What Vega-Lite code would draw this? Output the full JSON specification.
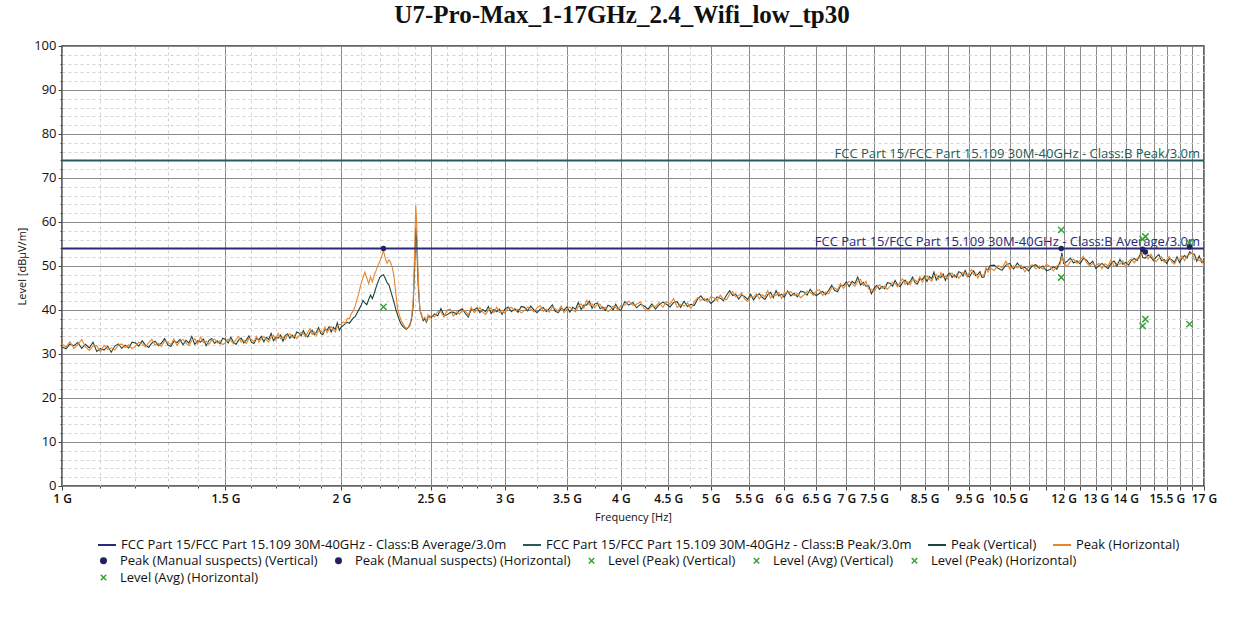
{
  "$schema": "https://vega.github.io/schema/vega-lite/v6.json",
  "autosize": {"type": "none"},
  "width": 1142,
  "height": 440,
  "padding": {"left": 62, "top": 46, "right": 43, "bottom": 136},
  "background": "white",
  "title": {"text": "U7-Pro-Max_1-17GHz_2.4_Wifi_low_tp30", "font": "Liberation Serif", "fontSize": 25, "fontWeight": "bold", "color": "#111111", "anchor": "middle", "dx": -11, "offset": 11},
  "config": {
    "view": {"stroke": "#333333", "strokeWidth": 1.5},
    "axis": {"labelFont": "Open Sans", "labelFontSize": 12, "labelColor": "#111111", "titleFont": "Open Sans", "titleFontSize": 11, "titleFontWeight": "normal", "titleColor": "#111111", "domain": false, "tickColor": "#444444", "gridOpacity": 1},
    "legend": {"labelFont": "Open Sans", "labelFontSize": 13, "labelColor": "#111111", "labelLimit": 600}
  },
  "datasets": {
    "tr": [
      {"f":1.00,"V":31.6,"H":32.2},{"f":1.01,"V":31.2,"H":31.6},{"f":1.02,"V":32.3,"H":32.8},{"f":1.03,"V":31.9,"H":31.3},{"f":1.04,"V":32.6,"H":32.1},{"f":1.05,"V":31.3,"H":33.3},{"f":1.06,"V":32.2,"H":31.6},{"f":1.07,"V":31.4,"H":30.8},{"f":1.08,"V":32.7,"H":31.8},{"f":1.09,"V":30.6,"H":31.9},
      {"f":1.10,"V":31.2,"H":30.5},{"f":1.11,"V":30.9,"H":32.0},{"f":1.12,"V":31.8,"H":31.0},{"f":1.13,"V":30.4,"H":31.4},{"f":1.14,"V":31.8,"H":30.9},{"f":1.15,"V":32.3,"H":32.0},{"f":1.16,"V":31.3,"H":32.3},{"f":1.17,"V":32.0,"H":31.5},{"f":1.18,"V":31.4,"H":32.1},{"f":1.19,"V":32.7,"H":31.2},
      {"f":1.20,"V":32.5,"H":31.8},{"f":1.21,"V":31.8,"H":32.7},{"f":1.22,"V":33.0,"H":32.3},{"f":1.23,"V":32.0,"H":31.6},{"f":1.24,"V":31.5,"H":32.6},{"f":1.25,"V":32.5,"H":33.3},{"f":1.26,"V":32.9,"H":32.0},{"f":1.27,"V":31.9,"H":32.5},{"f":1.28,"V":32.5,"H":31.7},{"f":1.29,"V":33.5,"H":33.0},
      {"f":1.30,"V":32.1,"H":32.7},{"f":1.31,"V":31.7,"H":32.1},{"f":1.32,"V":32.9,"H":33.4},{"f":1.33,"V":32.6,"H":32.0},{"f":1.34,"V":33.3,"H":32.8},{"f":1.35,"V":32.1,"H":33.3},{"f":1.36,"V":33.1,"H":32.5},{"f":1.37,"V":32.5,"H":31.9},{"f":1.38,"V":34.0,"H":33.1},{"f":1.39,"V":32.2,"H":33.5},
      {"f":1.40,"V":33.0,"H":32.3},{"f":1.41,"V":32.7,"H":33.8},{"f":1.42,"V":33.4,"H":32.6},{"f":1.43,"V":31.9,"H":32.9},{"f":1.44,"V":33.1,"H":32.2},{"f":1.45,"V":33.5,"H":33.2},{"f":1.46,"V":32.4,"H":33.4},{"f":1.47,"V":33.0,"H":32.5},{"f":1.48,"V":32.3,"H":33.0},{"f":1.49,"V":33.6,"H":32.1},
      {"f":1.50,"V":33.3,"H":32.6},{"f":1.51,"V":32.5,"H":33.4},{"f":1.52,"V":33.8,"H":33.1},{"f":1.53,"V":32.7,"H":32.3},{"f":1.54,"V":32.2,"H":33.3},{"f":1.55,"V":33.2,"H":34.0},{"f":1.56,"V":33.6,"H":32.7},{"f":1.57,"V":32.5,"H":33.1},{"f":1.58,"V":33.2,"H":32.4},{"f":1.59,"V":34.1,"H":33.6},
      {"f":1.60,"V":32.7,"H":33.3},{"f":1.61,"V":32.4,"H":32.8},{"f":1.62,"V":33.5,"H":34.0},{"f":1.63,"V":33.3,"H":32.7},{"f":1.64,"V":34.0,"H":33.5},{"f":1.65,"V":32.8,"H":34.0},{"f":1.66,"V":33.8,"H":33.2},{"f":1.67,"V":33.3,"H":32.7},{"f":1.68,"V":34.7,"H":33.8},{"f":1.69,"V":33.0,"H":34.3},
      {"f":1.70,"V":33.8,"H":33.1},{"f":1.71,"V":33.6,"H":34.7},{"f":1.72,"V":34.3,"H":33.5},{"f":1.73,"V":32.9,"H":33.9},{"f":1.74,"V":34.2,"H":33.3},{"f":1.75,"V":34.6,"H":34.3},{"f":1.76,"V":33.6,"H":34.6},{"f":1.77,"V":34.3,"H":33.8},{"f":1.78,"V":33.6,"H":34.3},{"f":1.79,"V":35.0,"H":33.5},
      {"f":1.80,"V":34.8,"H":34.1},{"f":1.81,"V":34.1,"H":35.0},{"f":1.82,"V":35.3,"H":34.6},{"f":1.83,"V":34.3,"H":33.9},{"f":1.84,"V":33.9,"H":35.0},{"f":1.85,"V":34.9,"H":35.7},{"f":1.86,"V":35.4,"H":34.5},{"f":1.87,"V":34.4,"H":35.0},{"f":1.88,"V":35.0,"H":34.2},{"f":1.89,"V":36.0,"H":35.5},
      {"f":1.90,"V":34.7,"H":35.3},{"f":1.91,"V":34.4,"H":34.8},{"f":1.92,"V":35.6,"H":36.1},{"f":1.93,"V":35.4,"H":34.8},{"f":1.94,"V":36.2,"H":35.7},{"f":1.95,"V":35.0,"H":36.2},{"f":1.96,"V":36.1,"H":35.5},{"f":1.97,"V":35.6,"H":35.0},{"f":1.98,"V":37.1,"H":36.2},{"f":1.99,"V":35.4,"H":36.7},
      {"f":2.00,"V":36.2,"H":36.8},{"f":2.01,"V":36.5,"H":37.3},{"f":2.02,"V":36.9,"H":37.0},{"f":2.03,"V":37.2,"H":38.1},{"f":2.04,"V":37.0,"H":38.0},{"f":2.05,"V":37.6,"H":39.2},{"f":2.06,"V":38.2,"H":39.8},{"f":2.07,"V":38.5,"H":41.0},{"f":2.08,"V":39.4,"H":42.6},{"f":2.09,"V":40.2,"H":44.1},
      {"f":2.10,"V":41.0,"H":46.0},{"f":2.11,"V":42.2,"H":47.4},{"f":2.12,"V":41.6,"H":48.6},{"f":2.13,"V":41.2,"H":47.3},{"f":2.14,"V":42.4,"H":46.0},{"f":2.15,"V":43.4,"H":47.5},{"f":2.16,"V":42.6,"H":46.4},{"f":2.17,"V":43.8,"H":48.0},{"f":2.18,"V":45.2,"H":49.0},{"f":2.19,"V":46.4,"H":50.2},
      {"f":2.20,"V":47.4,"H":51.0},{"f":2.21,"V":47.8,"H":52.2},{"f":2.22,"V":48.0,"H":53.5},{"f":2.23,"V":47.2,"H":51.8},{"f":2.24,"V":46.2,"H":50.6},{"f":2.25,"V":45.8,"H":51.4},{"f":2.26,"V":44.4,"H":50.8},{"f":2.27,"V":43.0,"H":49.6},{"f":2.28,"V":41.6,"H":47.2},{"f":2.29,"V":40.0,"H":43.5},
      {"f":2.30,"V":38.8,"H":40.2},{"f":2.31,"V":37.6,"H":38.7},{"f":2.32,"V":36.8,"H":37.6},{"f":2.33,"V":36.3,"H":36.9},{"f":2.34,"V":35.9,"H":36.2},{"f":2.35,"V":35.6,"H":35.8},{"f":2.36,"V":36.0,"H":36.1},{"f":2.37,"V":36.5,"H":36.8},{"f":2.38,"V":37.9,"H":38.2},{"f":2.39,"V":41.0,"H":42.0},
      {"f":2.40,"V":51.5,"H":55.0},{"f":2.405,"V":58.8,"H":63.8},{"f":2.41,"V":56.0,"H":60.5},{"f":2.42,"V":45.5,"H":47.0},{"f":2.43,"V":40.0,"H":40.2},{"f":2.44,"V":38.9,"H":38.6},{"f":2.45,"V":37.6,"H":37.9},{"f":2.46,"V":38.0,"H":38.4},{"f":2.47,"V":37.2,"H":37.5},{"f":2.48,"V":38.4,"H":38.9},
      {"f":2.49,"V":38.6,"H":38.2},{"f":2.50,"V":38.3,"H":38.8},
      {"f":2.52,"V":39.1,"H":38.4},{"f":2.54,"V":38.7,"H":39.6},{"f":2.56,"V":40.3,"H":39.6},{"f":2.58,"V":38.8,"H":38.4},{"f":2.60,"V":38.9,"H":40.0},{"f":2.62,"V":39.4,"H":40.2},{"f":2.64,"V":39.5,"H":38.6},{"f":2.66,"V":39.0,"H":39.6},{"f":2.68,"V":39.9,"H":39.1},{"f":2.70,"V":40.3,"H":39.8},
      {"f":2.72,"V":39.2,"H":39.8},{"f":2.74,"V":38.4,"H":38.8},{"f":2.76,"V":40.1,"H":40.6},{"f":2.78,"V":40.0,"H":39.4},{"f":2.80,"V":40.5,"H":40.0},{"f":2.82,"V":39.4,"H":40.6},{"f":2.84,"V":40.1,"H":39.5},{"f":2.86,"V":39.6,"H":39.0},{"f":2.88,"V":40.8,"H":39.9},{"f":2.90,"V":39.2,"H":40.5},
      {"f":2.92,"V":40.1,"H":39.4},{"f":2.94,"V":39.6,"H":40.7},{"f":2.96,"V":40.2,"H":39.4},{"f":2.98,"V":39.0,"H":40.0},{"f":3.00,"V":40.2,"H":39.3},
      {"f":3.025,"V":40.7,"H":40.4},{"f":3.05,"V":39.6,"H":40.6},{"f":3.075,"V":40.3,"H":39.8},{"f":3.10,"V":39.5,"H":40.2},{"f":3.125,"V":40.8,"H":39.3},{"f":3.15,"V":40.6,"H":39.9},{"f":3.175,"V":39.8,"H":40.7},{"f":3.20,"V":40.9,"H":40.2},{"f":3.225,"V":40.0,"H":39.6},{"f":3.25,"V":39.4,"H":40.5},
      {"f":3.275,"V":40.2,"H":41.0},{"f":3.30,"V":40.6,"H":39.7},{"f":3.325,"V":39.6,"H":40.2},{"f":3.35,"V":40.3,"H":39.5},{"f":3.375,"V":41.2,"H":40.7},{"f":3.40,"V":39.7,"H":40.3},{"f":3.425,"V":39.4,"H":39.8},{"f":3.45,"V":40.4,"H":40.9},{"f":3.475,"V":40.0,"H":39.4},{"f":3.50,"V":40.7,"H":40.2},
      {"f":3.525,"V":39.5,"H":40.7},{"f":3.55,"V":40.6,"H":40.0},{"f":3.575,"V":40.2,"H":39.6},{"f":3.60,"V":41.7,"H":40.8},{"f":3.625,"V":40.1,"H":41.4},{"f":3.65,"V":41.1,"H":40.4},{"f":3.675,"V":41.1,"H":42.2},{"f":3.70,"V":42.0,"H":41.2},{"f":3.725,"V":40.4,"H":41.4},{"f":3.75,"V":41.4,"H":40.5},
      {"f":3.775,"V":41.6,"H":41.3},{"f":3.80,"V":40.3,"H":41.3},{"f":3.825,"V":40.7,"H":40.2},{"f":3.85,"V":39.9,"H":40.6},{"f":3.875,"V":41.1,"H":39.6},{"f":3.90,"V":40.8,"H":40.1},{"f":3.925,"V":40.0,"H":40.9},{"f":3.95,"V":41.3,"H":40.6},{"f":3.975,"V":40.3,"H":39.9},{"f":4.00,"V":39.9,"H":41.0},
      {"f":4.04,"V":41.9,"H":41.1},{"f":4.08,"V":41.1,"H":42.0},{"f":4.12,"V":41.7,"H":41.1},{"f":4.16,"V":40.5,"H":41.3},{"f":4.20,"V":41.3,"H":41.8},{"f":4.24,"V":40.9,"H":40.3},{"f":4.28,"V":40.2,"H":39.8},{"f":4.32,"V":41.4,"H":40.9},{"f":4.36,"V":40.2,"H":40.8},{"f":4.40,"V":41.2,"H":41.7},
      {"f":4.44,"V":41.8,"H":40.6},{"f":4.48,"V":41.3,"H":41.9},{"f":4.52,"V":40.7,"H":41.3},{"f":4.56,"V":41.7,"H":42.6},{"f":4.60,"V":41.9,"H":40.6},{"f":4.64,"V":40.6,"H":41.3},{"f":4.68,"V":42.0,"H":40.9},{"f":4.72,"V":40.8,"H":41.6},{"f":4.76,"V":41.3,"H":40.3},{"f":4.80,"V":41.0,"H":41.9},
      {"f":4.84,"V":42.5,"H":42.8},{"f":4.88,"V":43.2,"H":42.2},{"f":4.92,"V":42.2,"H":42.7},{"f":4.96,"V":42.5,"H":41.8},{"f":5.00,"V":41.5,"H":43.0},{"f":5.04,"V":42.1,"H":42.8},{"f":5.08,"V":43.0,"H":42.1},{"f":5.12,"V":42.7,"H":43.4},{"f":5.16,"V":42.1,"H":42.5},{"f":5.20,"V":43.4,"H":42.3},
      {"f":5.24,"V":44.4,"H":43.6},{"f":5.28,"V":43.3,"H":44.2},{"f":5.32,"V":43.6,"H":43.0},{"f":5.36,"V":42.5,"H":43.3},{"f":5.40,"V":43.4,"H":43.9},{"f":5.44,"V":43.0,"H":42.4},{"f":5.48,"V":42.4,"H":42.0},{"f":5.52,"V":43.6,"H":43.1},{"f":5.56,"V":42.3,"H":42.9},{"f":5.60,"V":43.2,"H":43.7},
      {"f":5.64,"V":43.7,"H":42.5},{"f":5.68,"V":42.9,"H":43.5},{"f":5.72,"V":42.4,"H":43.0},{"f":5.76,"V":43.5,"H":44.4},{"f":5.80,"V":44.0,"H":42.7},{"f":5.84,"V":42.8,"H":43.5},{"f":5.88,"V":44.4,"H":43.3},{"f":5.92,"V":43.2,"H":44.0},{"f":5.96,"V":43.6,"H":42.6},{"f":6.00,"V":42.9,"H":43.8},
      {"f":6.05,"V":44.3,"H":44.0},{"f":6.10,"V":43.2,"H":44.2},{"f":6.15,"V":43.8,"H":43.3},{"f":6.20,"V":43.0,"H":43.7},{"f":6.25,"V":44.3,"H":42.8},{"f":6.30,"V":44.1,"H":43.4},{"f":6.35,"V":43.4,"H":44.3},{"f":6.40,"V":44.7,"H":44.0},{"f":6.45,"V":43.7,"H":43.3},{"f":6.50,"V":43.3,"H":44.4},
      {"f":6.55,"V":43.8,"H":44.6},{"f":6.60,"V":44.2,"H":43.3},{"f":6.65,"V":43.5,"H":44.1},{"f":6.70,"V":44.5,"H":43.7},{"f":6.75,"V":45.6,"H":45.1},{"f":6.80,"V":44.4,"H":45.0},{"f":6.85,"V":44.2,"H":44.6},{"f":6.90,"V":45.5,"H":46.0},{"f":6.95,"V":45.5,"H":44.9},{"f":7.00,"V":46.4,"H":45.9},
      {"f":7.05,"V":45.3,"H":46.5},{"f":7.10,"V":46.5,"H":45.9},{"f":7.15,"V":46.0,"H":45.4},{"f":7.20,"V":47.5,"H":46.6},{"f":7.25,"V":45.7,"H":47.0},{"f":7.30,"V":46.3,"H":45.6},{"f":7.35,"V":45.4,"H":46.5},{"f":7.40,"V":45.5,"H":44.7},{"f":7.45,"V":43.7,"H":44.7},{"f":7.50,"V":45.0,"H":44.1},
      {"f":7.55,"V":45.6,"H":45.3},{"f":7.60,"V":44.7,"H":45.7},{"f":7.65,"V":45.4,"H":44.9},{"f":7.70,"V":44.8,"H":45.5},{"f":7.75,"V":46.2,"H":44.7},{"f":7.80,"V":46.1,"H":45.4},{"f":7.85,"V":45.4,"H":46.3},{"f":7.90,"V":46.7,"H":46.0},{"f":7.95,"V":45.7,"H":45.3},{"f":8.00,"V":45.3,"H":46.4},
      {"f":8.05,"V":46.3,"H":47.1},{"f":8.10,"V":46.8,"H":45.9},{"f":8.15,"V":45.8,"H":46.4},{"f":8.20,"V":46.5,"H":45.7},{"f":8.25,"V":47.5,"H":47.0},{"f":8.30,"V":46.2,"H":46.8},{"f":8.35,"V":45.9,"H":46.3},{"f":8.40,"V":47.1,"H":47.6},{"f":8.45,"V":46.9,"H":46.3},{"f":8.50,"V":47.7,"H":47.2},
      {"f":8.55,"V":46.5,"H":47.7},{"f":8.60,"V":47.6,"H":47.0},{"f":8.65,"V":47.1,"H":46.5},{"f":8.70,"V":48.6,"H":47.7},{"f":8.75,"V":46.8,"H":48.1},{"f":8.80,"V":47.7,"H":47.0},{"f":8.85,"V":47.4,"H":48.5},{"f":8.90,"V":48.2,"H":47.4},{"f":8.95,"V":46.7,"H":47.7},{"f":9.00,"V":48.0,"H":47.1},
      {"f":9.05,"V":48.4,"H":48.1},{"f":9.10,"V":47.4,"H":48.4},{"f":9.15,"V":48.0,"H":47.5},{"f":9.20,"V":47.4,"H":48.1},{"f":9.25,"V":48.7,"H":47.2},{"f":9.30,"V":48.5,"H":47.8},{"f":9.35,"V":47.7,"H":48.6},{"f":9.40,"V":49.0,"H":48.3},{"f":9.45,"V":47.9,"H":47.5},{"f":9.50,"V":47.5,"H":48.6},
      {"f":9.55,"V":48.4,"H":49.2},{"f":9.60,"V":48.9,"H":48.0},{"f":9.65,"V":47.8,"H":48.4},{"f":9.70,"V":48.1,"H":47.3},{"f":9.75,"V":48.7,"H":48.2},{"f":9.80,"V":47.4,"H":48.0},{"f":9.85,"V":47.5,"H":47.9},{"f":9.90,"V":49.2,"H":49.7},{"f":9.95,"V":49.2,"H":48.6},{"f":10.0,"V":50.1,"H":49.6},
      {"f":10.1,"V":50.2,"H":49.0},{"f":10.2,"V":49.5,"H":50.1},{"f":10.3,"V":49.0,"H":49.6},{"f":10.4,"V":50.2,"H":51.1},{"f":10.5,"V":50.6,"H":49.3},{"f":10.6,"V":49.3,"H":50.0},{"f":10.7,"V":50.7,"H":49.6},{"f":10.8,"V":49.4,"H":50.2},{"f":10.9,"V":49.7,"H":48.7},{"f":11.0,"V":48.9,"H":49.8},
      {"f":11.1,"V":50.0,"H":50.3},{"f":11.2,"V":50.3,"H":49.3},{"f":11.3,"V":49.5,"H":50.0},{"f":11.4,"V":50.0,"H":49.3},{"f":11.5,"V":48.9,"H":50.4},{"f":11.6,"V":49.2,"H":49.9},{"f":11.7,"V":49.8,"H":48.9},{"f":11.8,"V":49.3,"H":50.0},{"f":11.9,"V":51.0,"H":50.4},{"f":11.95,"V":53.0,"H":52.3},
      {"f":12.0,"V":50.6,"H":51.0},{"f":12.1,"V":51.0,"H":49.9},{"f":12.2,"V":51.8,"H":51.0},{"f":12.3,"V":50.7,"H":51.6},{"f":12.4,"V":51.2,"H":50.6},{"f":12.5,"V":50.5,"H":51.3},{"f":12.6,"V":51.7,"H":52.2},{"f":12.7,"V":51.4,"H":50.8},{"f":12.8,"V":50.4,"H":50.0},{"f":12.9,"V":51.1,"H":50.6},
      {"f":13.0,"V":49.4,"H":50.0},{"f":13.1,"V":50.1,"H":50.6},{"f":13.2,"V":50.6,"H":49.4},{"f":13.3,"V":49.9,"H":50.5},{"f":13.4,"V":49.4,"H":50.0},{"f":13.5,"V":50.6,"H":51.5},{"f":13.6,"V":51.1,"H":49.8},{"f":13.7,"V":50.0,"H":50.7},{"f":13.8,"V":51.5,"H":50.4},{"f":13.9,"V":50.4,"H":51.2},
      {"f":14.0,"V":50.8,"H":49.8},{"f":14.1,"V":50.2,"H":51.1},{"f":14.2,"V":51.3,"H":51.6},{"f":14.3,"V":51.7,"H":50.7},{"f":14.4,"V":51.2,"H":51.7},{"f":14.5,"V":52.5,"H":51.8},{"f":14.55,"V":53.3,"H":52.8},{"f":14.6,"V":51.9,"H":53.4},{"f":14.7,"V":51.8,"H":52.5},{"f":14.8,"V":52.5,"H":51.6},
      {"f":14.9,"V":52.0,"H":52.7},{"f":15.0,"V":51.2,"H":51.6},{"f":15.1,"V":52.1,"H":51.0},{"f":15.2,"V":52.6,"H":51.8},{"f":15.3,"V":51.2,"H":52.1},{"f":15.4,"V":51.5,"H":50.9},{"f":15.5,"V":50.6,"H":51.4},{"f":15.6,"V":51.7,"H":52.2},{"f":15.7,"V":51.4,"H":50.8},{"f":15.8,"V":50.8,"H":50.4},
      {"f":15.9,"V":52.1,"H":51.6},{"f":16.0,"V":50.8,"H":51.4},{"f":16.1,"V":51.8,"H":52.3},{"f":16.2,"V":52.4,"H":51.2},{"f":16.3,"V":51.8,"H":52.4},{"f":16.4,"V":53.2,"H":52.6},{"f":16.5,"V":52.8,"H":53.0},{"f":16.6,"V":52.7,"H":51.4},{"f":16.7,"V":51.1,"H":51.8},{"f":16.8,"V":52.3,"H":51.2},
      {"f":16.9,"V":50.8,"H":51.6},{"f":17.0,"V":50.9,"H":49.9}
    ],
    "lim": [
      {"f":1,"L":54,"s":"A"},{"f":17,"L":54,"s":"A"},
      {"f":1,"L":74,"s":"P"},{"f":17,"L":74,"s":"P"}
    ],
    "lb": [
      {"f":17,"L":74,"c":"P","t":"FCC Part 15/FCC Part 15.109 30M-40GHz - Class:B Peak/3.0m"},
      {"f":17,"L":54,"c":"A","t":"FCC Part 15/FCC Part 15.109 30M-40GHz - Class:B Average/3.0m"}
    ],
    "pk": [
      {"f":2.22,"L":54.0,"m":"Peak (Manual suspects) (Horizontal)"},
      {"f":11.93,"L":54.0,"m":"Peak (Manual suspects) (Vertical)"},
      {"f":14.6,"L":53.8,"m":"Peak (Manual suspects) (Vertical)"},
      {"f":14.7,"L":53.2,"m":"Peak (Manual suspects) (Horizontal)"},
      {"f":16.4,"L":54.3,"m":"Peak (Manual suspects) (Horizontal)"}
    ],
    "lv": [
      {"f":11.93,"L":58.2,"m":"Level (Peak) (Vertical)"},
      {"f":11.93,"L":47.4,"m":"Level (Avg) (Vertical)"},
      {"f":14.6,"L":56.1,"m":"Level (Peak) (Vertical)"},
      {"f":14.6,"L":36.4,"m":"Level (Avg) (Vertical)"},
      {"f":14.7,"L":56.7,"m":"Level (Peak) (Horizontal)"},
      {"f":14.7,"L":37.9,"m":"Level (Avg) (Horizontal)"},
      {"f":16.4,"L":55.3,"m":"Level (Peak) (Horizontal)"},
      {"f":16.4,"L":36.8,"m":"Level (Avg) (Horizontal)"},
      {"f":2.22,"L":40.7,"m":"Level (Avg) (Horizontal)"}
    ]
  },
  "encoding": {
    "x": {
      "field": "f", "type": "quantitative",
      "scale": {"type": "log", "domain": [1, 17], "nice": false},
      "axis": {
        "title": "Frequency [Hz]",
        "values": [1,1.1,1.2,1.3,1.4,1.5,1.6,1.7,1.8,1.9,2,2.1,2.2,2.3,2.4,2.5,2.6,2.7,2.8,2.9,3,3.25,3.5,3.75,4,4.25,4.5,4.75,5,5.5,6,6.5,7,7.5,8,8.5,9,9.5,10,10.5,11,11.5,12,12.5,13,13.5,14,14.5,15,15.5,16,16.5,17],
        "labelExpr": "(datum.value % 0.5 === 0 && (datum.value <= 7.5 || datum.value === 8.5 || datum.value === 9.5 || datum.value === 10.5 || datum.value === 12 || datum.value === 13 || datum.value === 14 || datum.value === 15.5 || datum.value === 17)) ? datum.value + ' G' : ''",
        "labelOverlap": false, "labelFlush": false, "labelBound": false,
        "labelFontWeight": 600, "labelPadding": 3, "titlePadding": 7,
        "grid": true,
        "gridColor": {"condition": {"test": "datum.value % 0.5 === 0", "value": "#8a8a8a"}, "value": "#d2d2d2"},
        "gridDash": {"condition": {"test": "datum.value % 0.5 === 0", "value": []}, "value": [3, 3]},
        "tickSize": {"condition": {"test": "datum.value % 0.5 === 0", "value": 4}, "value": 2}
      }
    },
    "y": {
      "field": "L", "type": "quantitative",
      "scale": {"domain": [0, 100], "nice": false},
      "axis": {
        "title": "Level [dBµV/m]",
        "values": [0,2,4,6,8,10,12,14,16,18,20,22,24,26,28,30,32,34,36,38,40,42,44,46,48,50,52,54,56,58,60,62,64,66,68,70,72,74,76,78,80,82,84,86,88,90,92,94,96,98,100],
        "labelExpr": "datum.value % 10 === 0 ? datum.value : ''",
        "labelPadding": 2, "titlePadding": 6, "labelFontSize": 13, "labelOffset": -1,
        "grid": true,
        "gridColor": {"condition": {"test": "datum.value % 10 === 0", "value": "#8a8a8a"}, "value": "#d2d2d2"},
        "gridDash": {"condition": {"test": "datum.value % 10 === 0", "value": []}, "value": [3, 3]},
        "tickSize": {"condition": {"test": "datum.value % 10 === 0", "value": 4}, "value": 2}
      }
    }
  },
  "layer": [
    {
      "data": {"name": "tr"},
      "transform": [{"fold": ["V", "H"], "as": ["s", "L"]}],
      "mark": {"type": "line", "strokeWidth": 1.1, "clip": true},
      "encoding": {
        "stroke": {
          "field": "s", "type": "nominal",
          "scale": {"domain": ["A", "P", "V", "H"], "range": ["#2a2a78", "#245c58", "#1a4442", "#e8862e"]},
          "legend": {
            "title": null, "orient": "none", "legendX": 35, "legendY": 489, "direction": "horizontal",
            "columnPadding": 12, "symbolType": "stroke", "symbolSize": 324, "symbolStrokeWidth": 2, "labelOffset": 4,
            "labelExpr": "datum.label === 'A' ? 'FCC Part 15/FCC Part 15.109 30M-40GHz - Class:B Average/3.0m' : datum.label === 'P' ? 'FCC Part 15/FCC Part 15.109 30M-40GHz - Class:B Peak/3.0m' : datum.label === 'V' ? 'Peak (Vertical)' : 'Peak (Horizontal)'"
          }
        }
      }
    },
    {
      "data": {"name": "lim"},
      "mark": {"type": "line", "strokeWidth": 2, "clip": true},
      "encoding": {
        "stroke": {"field": "s", "type": "nominal"}
      }
    },
    {
      "data": {"name": "lb"},
      "transform": [{"filter": "datum.c === 'P'"}],
      "mark": {"type": "text", "align": "right", "baseline": "alphabetic", "dx": -4, "dy": -2, "font": "Open Sans", "fontSize": 13, "color": "#245c58"},
      "encoding": {"text": {"field": "t"}}
    },
    {
      "data": {"name": "lb"},
      "transform": [{"filter": "datum.c === 'A'"}],
      "mark": {"type": "text", "align": "right", "baseline": "alphabetic", "dx": -4, "dy": -2, "font": "Open Sans", "fontSize": 13, "color": "#2a2a78"},
      "encoding": {"text": {"field": "t"}}
    },
    {
      "data": {"name": "lv"},
      "mark": {"type": "point", "filled": false, "strokeWidth": 1.5, "size": 40, "opacity": 1},
      "encoding": {
        "shape": {
          "field": "m", "type": "nominal",
          "scale": {
            "domain": ["Peak (Manual suspects) (Vertical)", "Peak (Manual suspects) (Horizontal)", "Level (Peak) (Vertical)", "Level (Avg) (Vertical)", "Level (Peak) (Horizontal)", "Level (Avg) (Horizontal)"],
            "range": ["circle", "circle", "M-1,-1L1,1M-1,1L1,-1", "M-1,-1L1,1M-1,1L1,-1", "M-1,-1L1,1M-1,1L1,-1", "M-1,-1L1,1M-1,1L1,-1"]
          },
          "legend": {
            "title": null, "orient": "none", "legendX": 35, "legendY": 508, "direction": "horizontal",
            "columns": 5, "columnPadding": 14, "rowPadding": 3, "symbolSize": 30, "symbolStrokeWidth": 1.5, "labelOffset": 10
          }
        },
        "color": {
          "field": "m", "type": "nominal",
          "scale": {
            "domain": ["Peak (Manual suspects) (Vertical)", "Peak (Manual suspects) (Horizontal)", "Level (Peak) (Vertical)", "Level (Avg) (Vertical)", "Level (Peak) (Horizontal)", "Level (Avg) (Horizontal)"],
            "range": ["#22225e", "#22225e", "#3aa03a", "#3aa03a", "#3aa03a", "#3aa03a"]
          },
          "legend": {
            "title": null, "orient": "none", "legendX": 35, "legendY": 508, "direction": "horizontal",
            "columns": 5, "columnPadding": 14, "rowPadding": 3, "symbolSize": 30, "symbolStrokeWidth": 1.5, "labelOffset": 10
          }
        }
      }
    },
    {
      "data": {"name": "pk"},
      "mark": {"type": "point", "filled": true, "size": 30, "opacity": 1},
      "encoding": {
        "shape": {"field": "m", "type": "nominal"},
        "color": {"field": "m", "type": "nominal"}
      }
    }
  ]
}
